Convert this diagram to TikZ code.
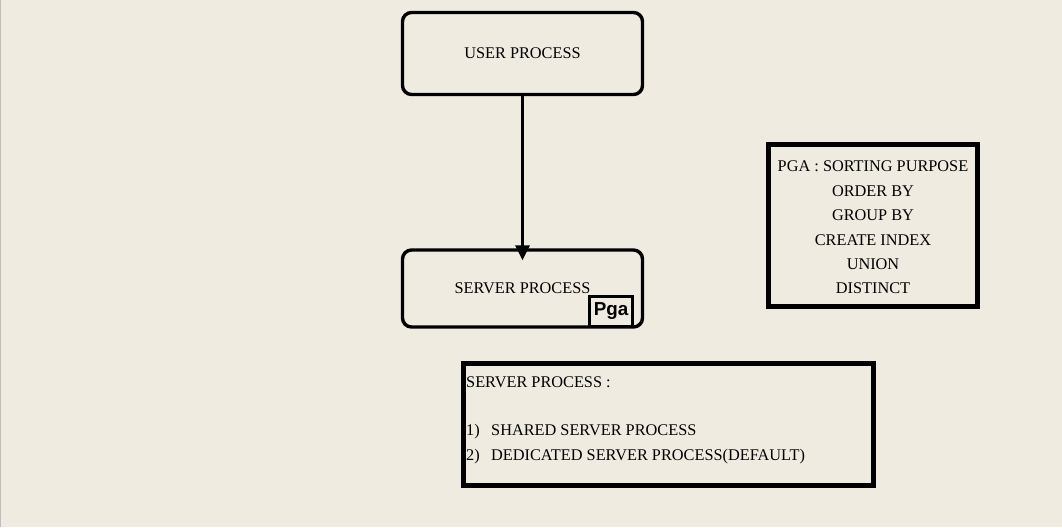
\documentclass[tikz,border=0pt]{standalone}
\usepackage{fontspec}
\setmainfont{Liberation Serif}
\newfontfamily\pgafont{Liberation Sans}
\usetikzlibrary{arrows.meta}
\definecolor{bg}{HTML}{EFEBE1}
\definecolor{edge}{HTML}{BDBDBD}
\begin{document}
\begin{tikzpicture}[x=1pt,y=-1pt,
  every node/.style={font=\fontsize{16.3}{24.4}\selectfont},
  procbox/.style={draw, line width=3.4pt, rounded corners=9pt, minimum width=240pt, inner sep=0pt},
  notebox/.style={draw, line width=5pt, inner sep=0pt},
  pgabox/.style={draw, line width=3.4pt, fill=bg, minimum width=43pt, minimum height=30pt, inner sep=0pt,
    font=\pgafont\bfseries\fontsize{18.8}{18.8}\selectfont},
  linetext/.style={anchor=base west, inner sep=0pt},
  flow/.style={line width=3.2pt, -{Triangle[length=15pt,width=14pt]}}
]
\fill[bg] (0,0) rectangle (1062,527);
\useasboundingbox (0,0) rectangle (1062,527);
\draw[edge, line width=1.2pt] (0.6,0) -- (0.6,527);

% process boxes
\node[procbox, minimum height=82pt] (user) at (522.5,53.5) {USER PROCESS};
\node[procbox, minimum height=77pt] (server) at (522.5,288.5) {SERVER PROCESS};
\node[pgabox] (pga) at (611,311.5) {Pga};

% connector
\draw[flow] (user.south) -- ([yshift=-12pt]server.north);

% PGA note
\node[notebox, minimum width=209pt, minimum height=162pt] (pganote) at (873,225) {};
\node[align=center, inner sep=0pt] (pgatext) at (873,227.5)
  {PGA : SORTING PURPOSE\\ORDER BY\\GROUP BY\\CREATE INDEX\\UNION\\DISTINCT};

% server process note
\node[notebox, minimum width=410pt, minimum height=122pt] (srvnote) at (668,424) {};
\node[linetext] (srvtitle) at (466,387) {SERVER PROCESS :};
\node[linetext] (srvone) at (466,435) {\makebox[25pt][l]{1)}SHARED SERVER PROCESS};
\node[linetext] (srvtwo) at (466,460) {\makebox[25pt][l]{2)}DEDICATED SERVER PROCESS(DEFAULT)};
\end{tikzpicture}
\end{document}
